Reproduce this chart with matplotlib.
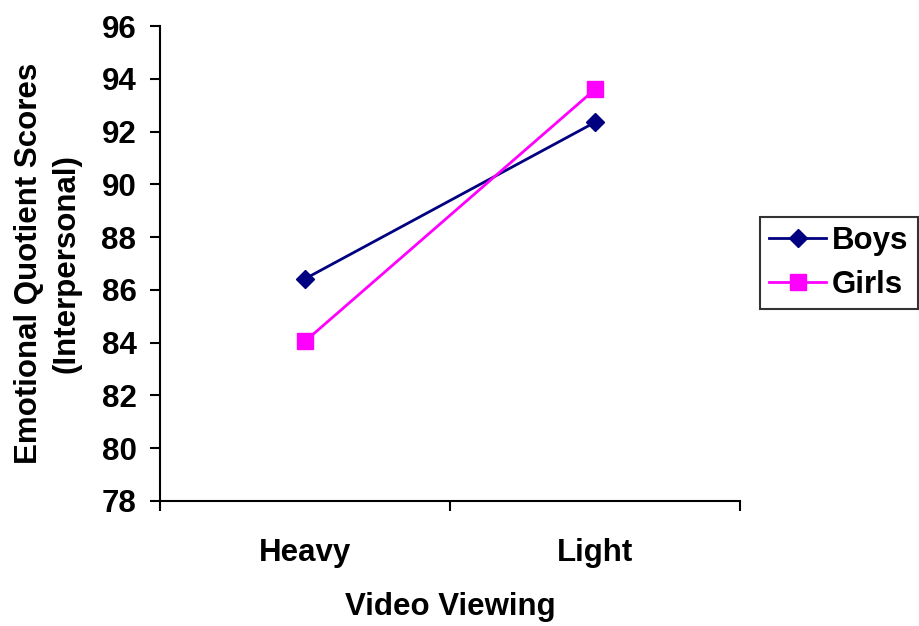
import matplotlib
matplotlib.use("Agg")
from matplotlib import pyplot as plt

categories = ["Heavy", "Light"]
boys = [86.42, 92.35]
girls = [84.05, 93.6]
y_ticks = [78, 80, 82, 84, 86, 88, 90, 92, 94, 96]

plt.rcParams['font.family'] = ['Liberation Sans', 'DejaVu Sans']
plt.rcParams['font.weight'] = 'bold'
fs = 22.5

fig = plt.figure(figsize=(9.19, 6.26), dpi=100)
ax = fig.add_axes([160 / 919, 1 - 501 / 626, 580 / 919, 475 / 626])

x = list(range(len(categories)))
ax.plot(x, boys, color='#000080', lw=2, marker='D', ms=9, label='Boys')
ax.plot(x, girls, color='#ff00ff', lw=2, marker='s', ms=11, label='Girls')

ax.set_xlim(-0.5, 1.5)
ax.set_ylim(78, 96)
ax.set_yticks(y_ticks)
ax.set_xticks([-0.5, 0.5, 1.5])
ax.set_xticklabels([])
ax.set_xticks(x, minor=True)
ax.set_xticklabels(categories, minor=True)
ax.tick_params(axis='x', which='minor', length=0, pad=27, labelsize=fs)
ax.tick_params(axis='x', which='major', direction='out', length=7, width=1.5)
ax.tick_params(axis='y', direction='out', length=7, width=1.5, labelsize=fs, pad=10)
for lab in ax.get_xticklabels(minor=True) + ax.get_yticklabels():
    lab.set_fontweight('bold')

for s in ['top', 'right']:
    ax.spines[s].set_visible(False)
for s in ['left', 'bottom']:
    ax.spines[s].set_linewidth(1.5)

ax.set_xlabel('Video Viewing', fontsize=fs, fontweight='bold', labelpad=17)
ax.set_ylabel('Emotional Quotient Scores\n(Interpersonal)', fontsize=fs,
              fontweight='bold', labelpad=14, linespacing=1.35)

leg = fig.legend(loc='center left', bbox_to_anchor=(760 / 919, 1 - 263 / 626),
                 fontsize=fs, frameon=True, fancybox=False, edgecolor='black',
                 handlelength=1.8, borderpad=0.3, labelspacing=0.45,
                 handletextpad=0.2, borderaxespad=0)
leg.get_frame().set_linewidth(1.5)
for t in leg.get_texts():
    t.set_fontweight('bold')

fig.savefig('out.png', dpi=100)
